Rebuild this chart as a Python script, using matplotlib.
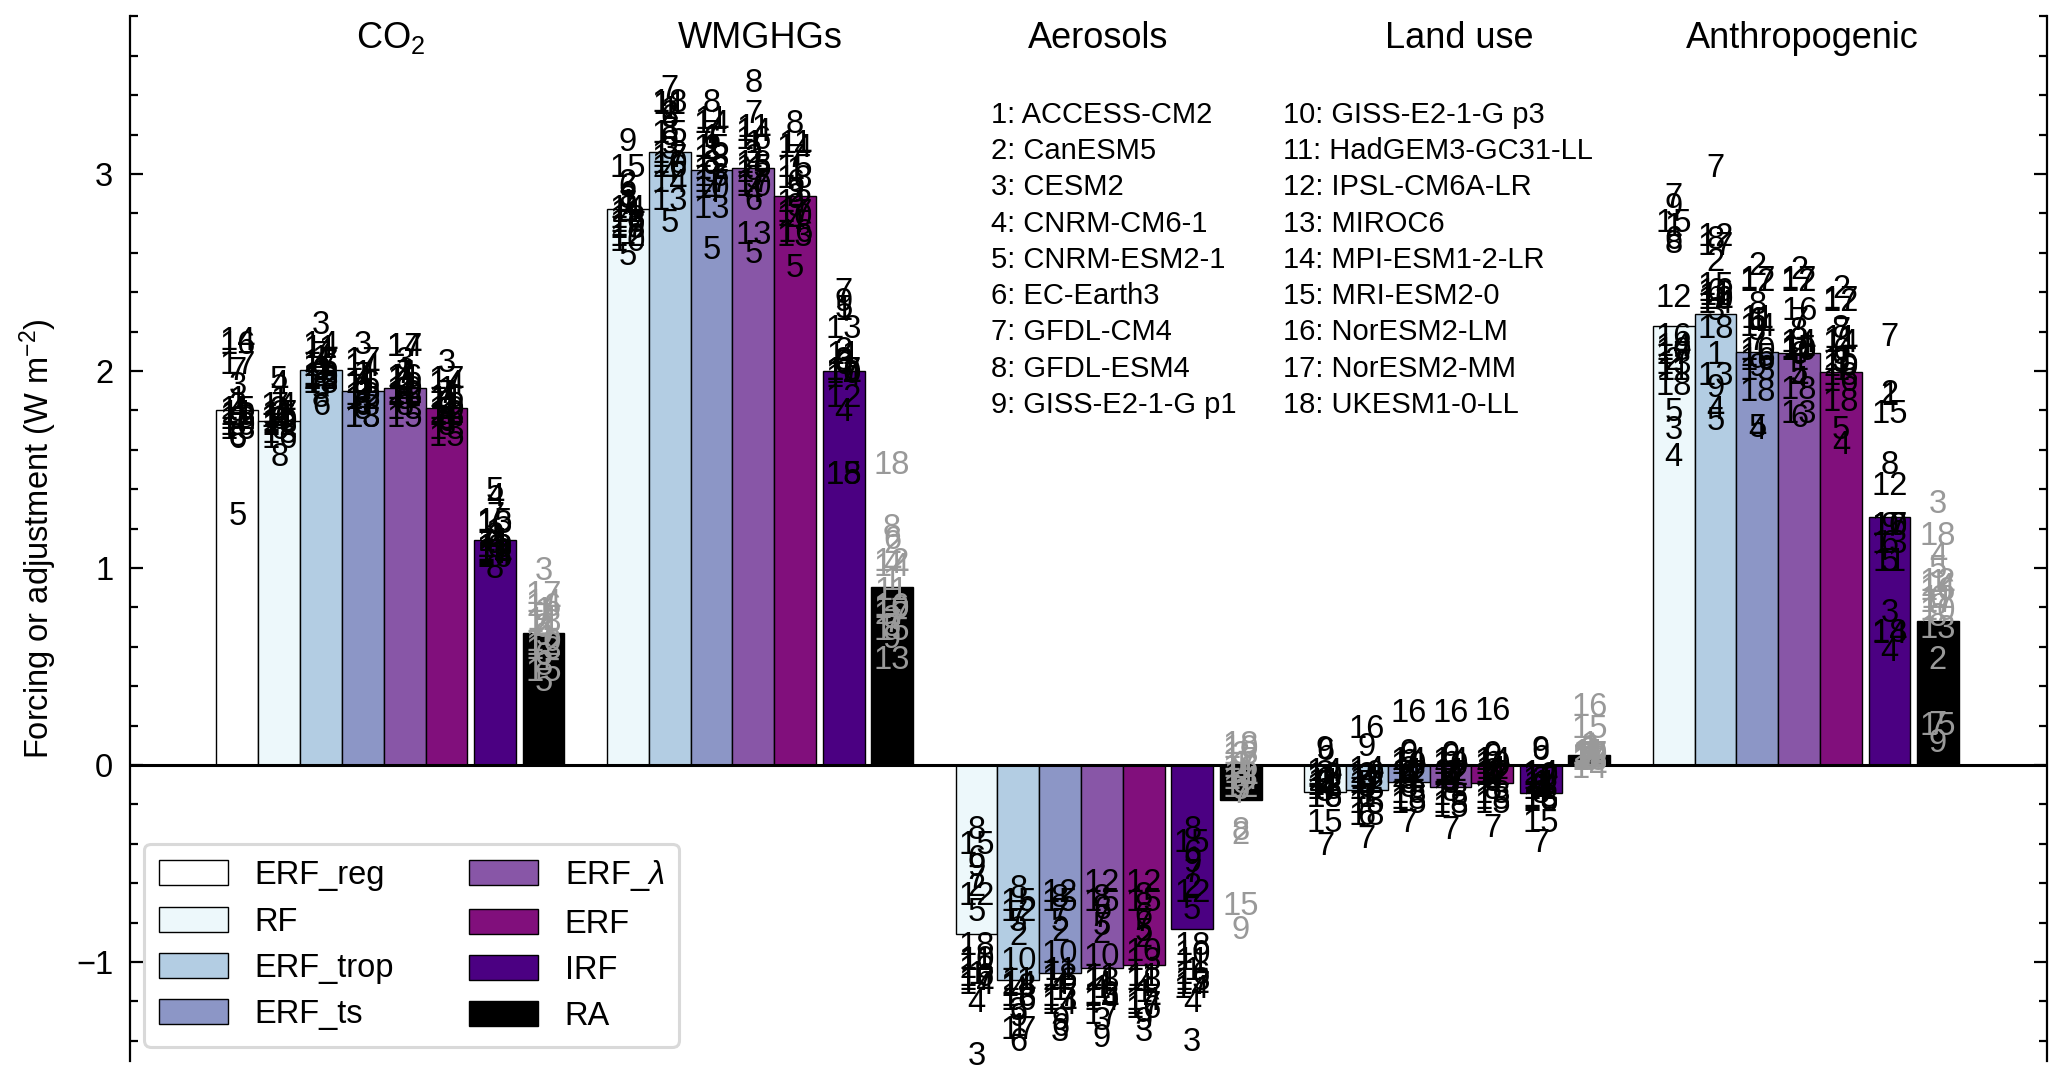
import matplotlib
matplotlib.use("Agg")
import matplotlib.pyplot as plt
from matplotlib.ticker import MultipleLocator

plt.rcParams['font.family'] = ['Liberation Sans', 'DejaVu Sans']
plt.rcParams['mathtext.fontset'] = 'custom'
plt.rcParams['mathtext.rm'] = 'Liberation Sans'
plt.rcParams['mathtext.it'] = 'Liberation Sans:italic'
plt.rcParams['mathtext.bf'] = 'Liberation Sans:bold'

# ---------------- data ----------------
groups = ['CO$_2$', 'WMGHGs', 'Aerosols', 'Land use', 'Anthropogenic']
bar_names = ['ERF_reg', 'RF', 'ERF_trop', 'ERF_ts', 'ERF_$\\lambda$', 'ERF', 'IRF', 'RA']
bar_colors = ['white', '#edf8fb', '#b3cde3', '#8c96c6', '#8856a7', '#810f7c', '#4b0082', 'black']

model_names = ['ACCESS-CM2', 'CanESM5', 'CESM2', 'CNRM-CM6-1', 'CNRM-ESM2-1', 'EC-Earth3',
               'GFDL-CM4', 'GFDL-ESM4', 'GISS-E2-1-G p1', 'GISS-E2-1-G p3', 'HadGEM3-GC31-LL',
               'IPSL-CM6A-LR', 'MIROC6', 'MPI-ESM1-2-LR', 'MRI-ESM2-0', 'NorESM2-LM',
               'NorESM2-MM', 'UKESM1-0-LL']

# multi-model bar heights (None = bar not shown)
co2_bars = [1.80, 1.745, 2.005, 1.90, 1.915, 1.81, 1.144, 0.67]
wmghg_bars = [None, 2.82, 3.11, 3.02, 3.03, 2.89, 2.00, 0.906]
aer_bars = [None, -0.856, -1.09, -1.056, -1.03, -1.017, -0.834, -0.178]
lu_bars = [None, -0.136, -0.127, -0.085, -0.11, -0.093, -0.14, 0.05]
anth_bars = [None, 2.23, 2.29, 2.096, 2.093, 1.996, 1.26, 0.73]

# per-model values (models 1..18)
co2_erf_reg = [1.85, 1.82, 1.92, 1.80, 1.26, 1.65, 2.00, 1.66, 1.75, 1.72, 1.78, 1.75, 1.70, 2.15, 1.80, 2.13, 2.03, 1.77]
co2_rf = [1.85, 1.78, 1.80, 1.93, 1.95, 1.70, 1.82, 1.56, 1.75, 1.74, 1.77, 1.72, 1.68, 1.82, 1.76, 1.65, 1.78, 1.73]
co2_erf_trop = [2.06, 2.00, 2.23, 2.05, 1.90, 1.82, 2.08, 1.86, 1.98, 1.96, 2.11, 1.95, 1.93, 2.13, 1.95, 2.02, 2.04, 1.97]
co2_erf_ts = [1.98, 1.90, 2.13, 1.95, 1.83, 1.82, 1.97, 1.80, 1.88, 1.87, 1.93, 1.85, 1.76, 2.02, 1.85, 1.93, 2.05, 1.76]
co2_erf_lam = [2.00, 1.93, 2.05, 1.97, 1.85, 1.85, 1.98, 1.82, 1.90, 1.90, 1.95, 1.88, 1.80, 2.12, 1.76, 1.96, 2.12, 1.87]
co2_erf = [1.90, 1.83, 2.04, 1.87, 1.75, 1.74, 1.88, 1.72, 1.80, 1.80, 1.85, 1.78, 1.70, 1.93, 1.66, 1.86, 1.95, 1.77]
co2_irf = [1.18, 1.15, 1.16, 1.36, 1.39, 1.10, 1.26, 0.99, 1.12, 1.10, 1.13, 1.08, 1.22, 1.06, 1.23, 1.05, 1.07, 1.10]
co2_ra = [0.78, 0.70, 0.98, 0.68, 0.42, 0.55, 0.75, 0.50, 0.65, 0.62, 0.73, 0.60, 0.58, 0.82, 0.47, 0.80, 0.86, 0.72]

wmghg_rf = [2.85, 2.95, 2.88, 2.78, 2.58, 2.93, 2.84, 2.87, 3.16, 2.65, 2.80, 2.68, 2.77, 2.82, 3.03, 2.75, 2.73, 2.72]
wmghg_erf_trop = [3.32, 3.30, 3.12, 3.00, 2.75, 3.28, 3.43, 3.22, 3.15, 3.05, 3.35, 3.10, 2.86, 2.95, 3.20, 3.03, 3.08, 3.36]
wmghg_erf_ts = [3.18, 3.12, 3.05, 2.90, 2.61, 3.17, 3.20, 3.36, 3.00, 2.92, 3.27, 3.02, 2.82, 3.25, 3.13, 2.98, 2.95, 3.08]
wmghg_erf_lam = [3.15, 3.08, 3.10, 2.90, 2.59, 2.86, 3.30, 3.46, 2.97, 2.93, 3.23, 3.00, 2.69, 3.21, 3.03, 3.17, 2.95, 3.05]
wmghg_erf = [3.02, 2.88, 2.90, 2.75, 2.52, 2.95, 3.08, 3.25, 2.83, 2.78, 3.15, 2.85, 2.68, 3.13, 3.03, 2.70, 2.80, 2.97]
wmghg_irf = [2.30, 2.10, 2.05, 1.79, 2.31, 2.03, 2.40, 2.04, 2.35, 1.98, 2.08, 1.86, 2.21, 1.96, 1.47, 2.00, 2.00, 1.47]
wmghg_ra = [0.93, 1.12, 0.74, 1.02, 0.70, 1.14, 0.72, 1.20, 0.635, 0.79, 0.88, 1.03, 0.53, 1.00, 0.68, 0.80, 0.76, 1.52]

aer_rf = [-1.07, -0.62, -1.48, -1.21, -0.75, -0.48, -0.58, -0.33, -0.52, -0.99, -1.00, -0.67, -1.04, -1.12, -0.41, -1.08, -1.10, -0.92]
aer_erf_trop = [-1.33, -0.87, -1.25, -1.15, -0.80, -1.41, -0.76, -0.63, -1.28, -1.00, -1.10, -0.75, -1.18, -1.12, -0.70, -1.20, -1.35, -1.13]
aer_erf_ts = [-1.15, -0.85, -1.36, -1.12, -0.80, -1.33, -0.75, -0.68, -1.30, -0.96, -1.05, -0.65, -1.20, -1.22, -0.70, -1.10, -1.18, -1.08]
aer_erf_lam = [-1.14, -0.86, -1.30, -1.12, -0.82, -0.74, -0.78, -0.68, -1.39, -0.975, -1.08, -0.60, -1.18, -1.20, -0.70, -1.17, -1.27, -1.10]
aer_erf = [-1.16, -0.88, -1.36, -1.13, -0.85, -0.77, -0.80, -0.67, -1.30, -0.95, -1.08, -0.60, -1.00, -1.20, -0.70, -1.24, -1.22, -1.10]
aer_irf = [-1.05, -0.62, -1.41, -1.21, -0.74, -0.45, -0.55, -0.33, -0.50, -0.96, -1.00, -0.65, -1.10, -1.14, -0.40, -1.07, -1.12, -0.92]
aer_ra = [0.00, -0.36, 0.05, -0.07, -0.13, -0.10, -0.15, -0.34, -0.84, 0.08, -0.05, -0.12, 0.05, -0.08, -0.72, -0.02, 0.02, 0.10]

lu_rf = [-0.08, -0.10, -0.05, -0.12, -0.10, 0.07, -0.415, -0.14, 0.076, -0.06, -0.09, -0.11, -0.13, -0.04, -0.295, -0.17, -0.07, -0.17]
lu_erf_trop = [-0.17, -0.06, -0.12, -0.09, -0.10, -0.26, -0.38, -0.17, 0.087, -0.05, -0.08, -0.10, -0.13, -0.03, -0.20, 0.178, -0.07, -0.26]
lu_erf_ts = [-0.05, -0.03, -0.10, -0.06, -0.08, 0.05, -0.295, -0.12, 0.06, 0.00, -0.04, -0.07, -0.15, 0.02, -0.20, 0.263, -0.05, -0.18]
lu_erf_lam = [-0.06, -0.05, -0.10, -0.08, -0.09, 0.04, -0.33, -0.14, 0.05, 0.00, -0.04, -0.06, -0.16, 0.02, -0.22, 0.263, -0.05, -0.20]
lu_erf = [-0.05, -0.04, -0.09, -0.07, -0.08, 0.04, -0.32, -0.13, 0.05, 0.00, -0.03, -0.06, -0.15, 0.02, -0.20, 0.27, -0.05, -0.18]
lu_irf = [-0.10, -0.12, -0.08, -0.14, -0.12, 0.07, -0.40, -0.15, 0.076, -0.06, -0.10, -0.13, -0.17, -0.05, -0.295, -0.19, -0.08, -0.18]
lu_ra = [0.10, 0.08, 0.07, 0.06, 0.04, 0.03, 0.05, 0.02, 0.03, 0.05, 0.06, 0.04, 0.03, -0.025, 0.18, 0.29, 0.05, 0.02]

anth_rf = [2.73, 2.05, 1.70, 1.56, 1.79, 2.66, 2.88, 2.64, 2.83, 2.10, 2.00, 2.37, 2.03, 2.12, 2.75, 2.17, 2.08, 1.92]
anth_erf_trop = [2.08, 2.55, 2.30, 1.80, 1.745, 2.40, 3.03, 2.66, 1.91, 2.36, 2.38, 2.68, 1.97, 2.34, 2.43, 2.40, 2.63, 2.21]
anth_erf_ts = [2.25, 2.53, 2.20, 1.70, 1.71, 2.25, 2.15, 2.33, 2.02, 2.10, 2.26, 2.45, 2.00, 2.22, 2.07, 2.05, 2.46, 1.89]
anth_erf_lam = [2.05, 2.51, 2.15, 1.95, 1.98, 1.76, 2.25, 2.20, 2.08, 2.10, 2.12, 2.45, 1.78, 2.14, 2.11, 2.30, 2.46, 1.90]
anth_erf = [2.00, 2.415, 2.05, 1.62, 1.70, 2.10, 2.20, 2.21, 2.04, 2.02, 2.16, 2.35, 1.97, 2.14, 2.05, 1.94, 2.36, 1.84]
anth_irf = [1.87, 1.88, 0.77, 0.57, 1.03, 1.12, 2.17, 1.52, 1.21, 1.21, 1.03, 1.415, 1.12, 0.66, 1.78, 1.21, 1.21, 0.67]
anth_ra = [0.92, 0.53, 1.32, 1.06, 0.99, 0.84, 0.20, 0.75, 0.11, 0.78, 0.84, 0.925, 0.686, 0.90, 0.195, 0.88, 0.82, 1.16]

group_bars = [co2_bars, wmghg_bars, aer_bars, lu_bars, anth_bars]
group_models = [
    [co2_erf_reg, co2_rf, co2_erf_trop, co2_erf_ts, co2_erf_lam, co2_erf, co2_irf, co2_ra],
    [None, wmghg_rf, wmghg_erf_trop, wmghg_erf_ts, wmghg_erf_lam, wmghg_erf, wmghg_irf, wmghg_ra],
    [None, aer_rf, aer_erf_trop, aer_erf_ts, aer_erf_lam, aer_erf, aer_irf, aer_ra],
    [None, lu_rf, lu_erf_trop, lu_erf_ts, lu_erf_lam, lu_erf, lu_irf, lu_ra],
    [None, anth_rf, anth_erf_trop, anth_erf_ts, anth_erf_lam, anth_erf, anth_irf, anth_ra],
]

# ---------------- layout ----------------
W, H = 2067, 1086
fig = plt.figure(figsize=(W / 100, H / 100), dpi=100)
ax = fig.add_axes([130 / W, (H - 1060.5) / H, (2047 - 130) / W, (1060.5 - 16.4) / H])

offsets = [-0.12, 0.0, 0.12, 0.24, 0.36, 0.48, 0.619, 0.758]
title_x = [0.319, 1.379, 2.35, 3.385, 4.369]
width = 0.12
fs = 23.5

handles = [None] * len(bar_names)
for g, (heights, mvals) in enumerate(zip(group_bars, group_models)):
    for b, h in enumerate(heights):
        if h is None:
            continue
        x = g + offsets[b]
        bc = ax.bar(x, h, width=width, color=bar_colors[b], edgecolor='black',
                    linewidth=1.0, label=bar_names[b], zorder=2)
        if handles[b] is None:
            handles[b] = bc
        vals = mvals[b]
        tc = '0.6' if bar_names[b] == 'RA' else 'black'
        for m, v in enumerate(vals):
            if v is None:
                continue
            ax.text(x, v, str(m + 1), ha='center', va='center', fontsize=fs,
                    color=tc, zorder=4)

ax.axhline(0, color='black', lw=2.2, zorder=3)

for g, name in enumerate(groups):
    ax.text(title_x[g], 3.69, name, ha='center', va='center', fontsize=26)

for i, name in enumerate(model_names):
    col, row = divmod(i, 9)
    ax.text(2.043 + col * 0.835, 3.30 - row * 0.184, f'{i + 1}: {name}',
            ha='left', va='center', fontsize=21)

ax.set_xlim(-0.428, 5.071)
ax.set_ylim(-1.5, 3.8)
ax.set_xticks([])
ax.yaxis.set_major_locator(MultipleLocator(1))
ax.yaxis.set_minor_locator(MultipleLocator(0.2))
for s in ['top', 'bottom']:
    ax.spines[s].set_visible(False)
for s in ['left', 'right']:
    ax.spines[s].set_linewidth(1.6)
ax.tick_params(axis='y', which='both', direction='in', left=True, right=True,
               labelright=False, width=1.6, labelsize=fs, pad=12)
ax.tick_params(axis='y', which='major', length=9.5)
ax.tick_params(axis='y', which='minor', length=5.5)
ax.set_ylabel('Forcing or adjustment (W m$^{-2}$)', fontsize=fs, labelpad=12)

leg = ax.legend(handles=handles, labels=bar_names, ncol=2, loc='lower left',
                bbox_to_anchor=(0.0073, 0.013), borderaxespad=0, fontsize=fs,
                handlelength=2.13, handleheight=0.8, handletextpad=0.8,
                columnspacing=2.3, labelspacing=0.47, borderpad=0.45,
                framealpha=1, edgecolor='0.85')
leg.get_frame().set_linewidth(2.2)
leg.set_zorder(5)

fig.savefig('out.png', dpi=100)
